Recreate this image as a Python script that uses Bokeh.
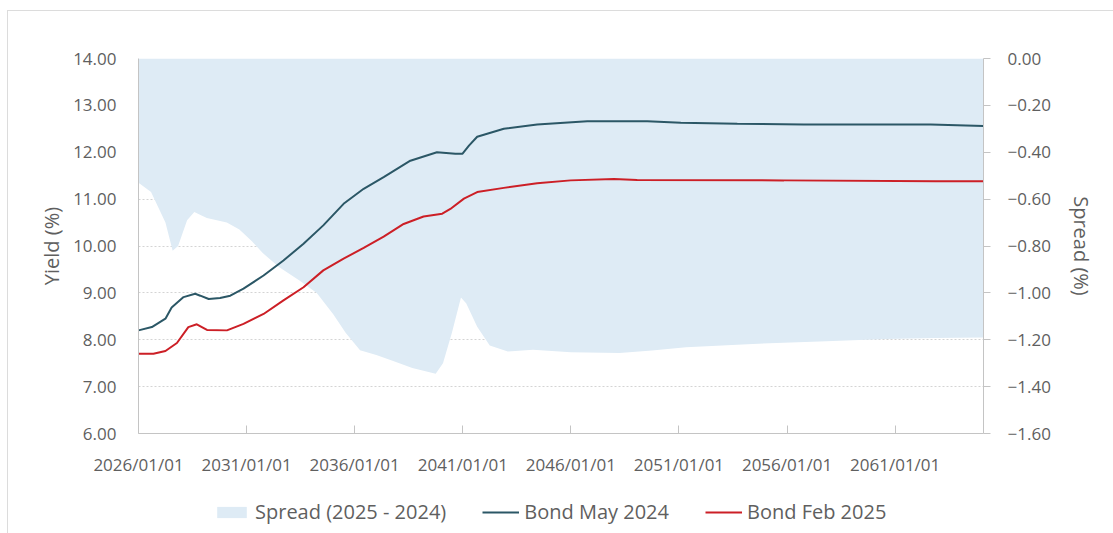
import pandas as pd
from bokeh.plotting import figure
from bokeh.layouts import column
from bokeh.models import (Range1d, LinearAxis, FixedTicker, DatetimeTickFormatter,
                          Legend, LegendItem, NumeralTickFormatter, CustomJSTickFormatter,
                          ColumnDataSource)
from bokeh.embed import file_html
from bokeh.resources import INLINE

# ---------------- data ----------------
spread_dates = ["2026-01-01", "2026-08-01", "2027-04-01", "2027-08-01", "2027-11-01",
                "2028-04-01", "2028-08-01", "2028-12-01", "2029-03-01", "2030-02-01",
                "2030-09-01", "2031-04-01", "2031-10-01", "2032-07-01", "2033-07-01",
                "2034-04-01", "2035-01-01", "2035-08-01", "2036-04-01", "2037-01-01",
                "2037-10-01", "2038-09-01", "2039-10-01", "2040-02-01", "2040-07-01",
                "2040-12-01", "2041-03-01", "2041-09-01", "2042-04-01", "2043-02-01",
                "2044-04-01", "2046-01-01", "2048-04-01", "2049-10-01", "2051-05-01",
                "2054-06-01", "2057-07-01", "2060-08-01", "2062-11-01", "2065-02-01"]
spread_values = [-0.53, -0.57, -0.70, -0.82, -0.80,
                 -0.69, -0.655, -0.67, -0.68, -0.70,
                 -0.73, -0.78, -0.83, -0.89, -0.95,
                 -1.00, -1.09, -1.17, -1.245, -1.265,
                 -1.29, -1.32, -1.345, -1.30, -1.17,
                 -1.02, -1.045, -1.145, -1.225, -1.25,
                 -1.243, -1.253, -1.256, -1.246, -1.232,
                 -1.218, -1.207, -1.197, -1.193, -1.19]

may2024_dates = ["2026-01-01", "2026-08-15", "2027-04-01", "2027-07-15", "2028-02-01",
                 "2028-08-15", "2028-11-10", "2029-04-01", "2029-10-10", "2030-04-01",
                 "2030-11-10", "2031-10-15", "2032-09-15", "2033-08-20", "2034-07-20",
                 "2035-06-28", "2036-06-01", "2037-05-05", "2038-07-30", "2039-10-22",
                 "2040-08-28", "2040-12-28", "2041-04-15", "2041-09-01", "2042-11-25",
                 "2044-06-10", "2046-10-05", "2049-07-15", "2051-02-01", "2053-09-12",
                 "2056-10-10", "2062-08-25", "2065-02-01"]
may2024_yield = [8.20, 8.27, 8.45, 8.69, 8.91,
                 8.98, 8.94, 8.87, 8.89, 8.94,
                 9.09, 9.37, 9.69, 10.05, 10.44,
                 10.90, 11.22, 11.47, 11.82, 12.00,
                 11.97, 11.97, 12.14, 12.33, 12.50,
                 12.59, 12.66, 12.66, 12.63, 12.61,
                 12.59, 12.59, 12.56]

feb2025_dates = ["2026-01-01", "2026-09-10", "2027-04-01", "2027-10-12", "2028-04-22",
                 "2028-09-12", "2029-03-03", "2030-02-03", "2030-11-10", "2031-10-15",
                 "2032-09-15", "2033-08-20", "2034-07-20", "2035-06-28", "2036-06-01",
                 "2037-05-05", "2038-04-08", "2039-03-10", "2040-01-20", "2040-06-05",
                 "2041-01-20", "2041-09-01", "2042-11-25", "2044-06-10", "2045-12-28",
                 "2047-12-28", "2049-01-25", "2055-11-10", "2062-11-15", "2065-02-01"]
feb2025_yield = [7.70, 7.70, 7.76, 7.93, 8.27,
                 8.33, 8.21, 8.20, 8.34, 8.55,
                 8.84, 9.12, 9.48, 9.73, 9.96,
                 10.20, 10.47, 10.63, 10.69, 10.79,
                 11.01, 11.15, 11.24, 11.34, 11.40,
                 11.43, 11.41, 11.40, 11.38, 11.38]

x_tick_dates = ["2026-01-01", "2031-01-01", "2036-01-01", "2041-01-01",
                "2046-01-01", "2051-01-01", "2056-01-01", "2061-01-01"]

yield_ticks = [6, 7, 8, 9, 10, 11, 12, 13, 14]
spread_ticks = [-1.6, -1.4, -1.2, -1.0, -0.8, -0.6, -0.4, -0.2, 0.0]

series_labels = ["Spread (2025 - 2024)", "Bond May 2024", "Bond Feb 2025"]

# ---------------- styling ----------------
FONT = "Open Sans"
TXT = "#5f5f5f"
AXIS = "#c4c4c4"
FILL = "#deebf5"
TEAL = "#2b5766"
RED = "#cc1f26"

spread_src = ColumnDataSource(dict(x=pd.to_datetime(spread_dates),
                                   y1=[0.0] * len(spread_values), y2=spread_values))
may_src = ColumnDataSource(dict(x=pd.to_datetime(may2024_dates), y=may2024_yield))
feb_src = ColumnDataSource(dict(x=pd.to_datetime(feb2025_dates), y=feb2025_yield))
td = pd.to_datetime(x_tick_dates)

all_dates = pd.to_datetime(spread_dates + may2024_dates + feb2025_dates)
x_start, x_end = all_dates.min(), all_dates.max()

p = figure(width=1105, height=477, x_axis_type="datetime",
           x_range=Range1d(x_start, x_end), y_range=Range1d(6, 14),
           output_backend="svg", toolbar_location=None,
           min_border_left=130, min_border_right=130,
           min_border_top=47, min_border_bottom=55)
p.outline_line_color = None
p.background_fill_color = "white"
p.border_fill_color = "white"

p.extra_y_ranges = {"spread": Range1d(-1.6, 0)}

p.varea(x="x", y1="y1", y2="y2", source=spread_src,
        y_range_name="spread", fill_color=FILL, fill_alpha=1)
p.line("x", "y", source=may_src, line_color=TEAL, line_width=2)
p.line("x", "y", source=feb_src, line_color=RED, line_width=2)

# x axis
xa = p.xaxis[0]
xa.ticker = FixedTicker(ticks=[t.value / 1e6 for t in td])
fmt = "%Y/%m/%d"
xa.formatter = DatetimeTickFormatter(milliseconds=fmt, seconds=fmt, minsec=fmt,
                                     minutes=fmt, hourmin=fmt, hours=fmt, days=fmt,
                                     months=fmt, years=fmt)
xa.major_tick_in = 8
xa.major_tick_out = 0
xa.minor_tick_line_color = None
xa.major_tick_line_color = AXIS
xa.axis_line_color = AXIS
xa.major_label_standoff = 19

# left axis
ya = p.yaxis[0]
ya.ticker = FixedTicker(ticks=yield_ticks)
ya.formatter = NumeralTickFormatter(format="0.00")
ya.axis_label = "Yield (%)"
ya.major_tick_line_color = None
ya.minor_tick_line_color = None
ya.axis_line_color = AXIS
ya.major_label_standoff = 16
ya.axis_label_standoff = 5

# right axis
ra = LinearAxis(y_range_name="spread", axis_label="Spread (%)")
ra.ticker = FixedTicker(ticks=spread_ticks)
ra.formatter = CustomJSTickFormatter(
    code="return (tick < -1e-9 ? '\\u2212' : '') + Math.abs(tick).toFixed(2);")
ra.major_tick_out = 7
ra.major_tick_in = 0
ra.major_tick_line_color = AXIS
ra.minor_tick_line_color = None
ra.axis_line_color = AXIS
ra.major_label_standoff = 17
ra.axis_label_standoff = 14
p.add_layout(ra, "right")

for ax in (xa, ya, ra):
    ax.major_label_text_font = FONT
    ax.major_label_text_font_size = "17px"
    ax.major_label_text_color = TXT
    ax.axis_label_text_font = FONT
    ax.axis_label_text_font_size = "20px"
    ax.axis_label_text_font_style = "normal"
    ax.axis_label_text_color = TXT

p.xgrid.visible = False
p.ygrid.ticker = FixedTicker(ticks=yield_ticks)
p.ygrid.grid_line_color = "#d4d4d4"
p.ygrid.grid_line_dash = "2 2"

# ---------------- legend strip (separate figure, same sources) ----------------
lg = figure(width=1105, height=45, x_range=Range1d(0, 1), y_range=Range1d(0, 1),
            output_backend="svg", toolbar_location=None,
            x_axis_location=None, y_axis_location=None,
            min_border_left=0, min_border_right=0, min_border_top=0, min_border_bottom=0)
lg.outline_line_color = None
lg.xgrid.visible = False
lg.ygrid.visible = False
lg.background_fill_color = "white"
lg.border_fill_color = "white"
# same data as the chart; they lie outside this strip's ranges, so only the legend shows
la = lg.varea(x="x", y1="y1", y2="y2", source=spread_src, fill_color=FILL, fill_alpha=1)
lm = lg.line("x", "y", source=may_src, line_color=TEAL, line_width=2)
lf = lg.line("x", "y", source=feb_src, line_color=RED, line_width=2)

legend = Legend(items=[LegendItem(label=series_labels[0], renderers=[la]),
                       LegendItem(label=series_labels[1], renderers=[lm]),
                       LegendItem(label=series_labels[2], renderers=[lf])],
                location=(75, 8), orientation="horizontal")
legend.background_fill_alpha = 0
legend.border_line_color = None
legend.padding = 0
legend.margin = 0
legend.spacing = 36
legend.glyph_width = 37
legend.glyph_height = 14
legend.label_standoff = 5
legend.label_text_font = FONT
legend.label_text_font_size = "20px"
legend.label_text_color = TXT
lg.add_layout(legend)

layout = column(p, lg, spacing=0)
layout.margin = (10, 0, 0, 7)
layout.styles = {"border-top": "1px solid #dcdcdc", "border-left": "1px solid #dcdcdc"}

open("out.html", "w").write(file_html(layout, INLINE))
